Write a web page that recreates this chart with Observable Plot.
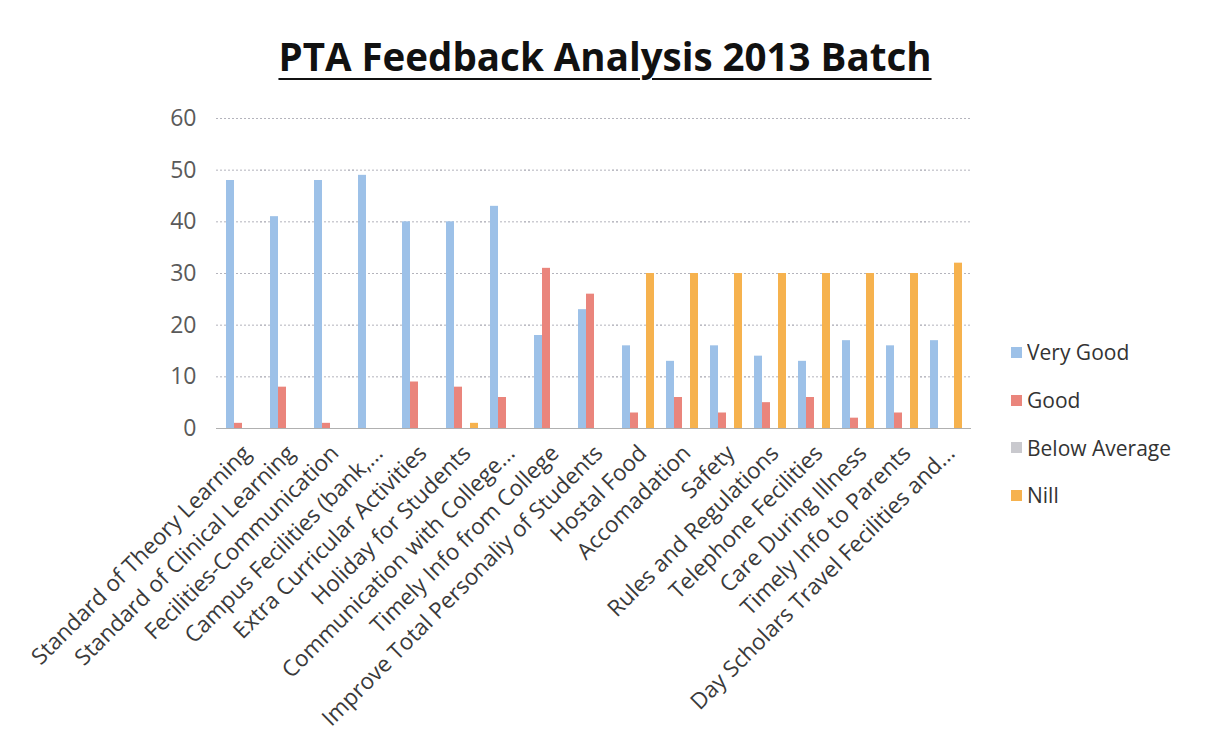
<!DOCTYPE html>
<html>
<head>
<meta charset="utf-8">
<script src="https://cdn.jsdelivr.net/npm/d3@7"></script>
<script src="https://cdn.jsdelivr.net/npm/@observablehq/plot@0.6"></script>
<style>
  html, body { margin: 0; padding: 0; background: #fff; }
  #wrap { position: relative; width: 1210px; height: 754px; overflow: hidden; font-family: "Open Sans", sans-serif; }
  #title { height: 100px; box-sizing: border-box; padding-top: 37px; line-height: 38px; font-size: 38.5px; font-weight: 700; color: #111; text-align: center; }
  #title span { text-decoration: underline; text-decoration-thickness: 2px; text-underline-offset: 7px; }
  #legend { position: absolute; left: 1011px; top: 329px; }
  .lg-swatch { height: 46.7px; }
  .lg-swatch-label { font-size: 21px; color: #333; font-family: "Open Sans", sans-serif; }
</style>
</head>
<body>
<div id="wrap">
  <div id="title"><span>PTA Feedback Analysis 2013 Batch</span></div>
  <div id="chart"></div>
  <div id="legend"></div>
</div>
<script>
const categories = [
  "Standard of Theory Learning",
  "Standard of Clinical Learning",
  "Fecilities-Communication",
  "Campus Fecilities (bank,...",
  "Extra Curricular Activities",
  "Holiday for Students",
  "Communication with College...",
  "Timely Info from College",
  "Improve Total Personaliy of Students",
  "Hostal Food",
  "Accomadation",
  "Safety",
  "Rules and Regulations",
  "Telephone Fecilities",
  "Care During Illness",
  "Timely Info to Parents",
  "Day Scholars Travel Fecilities and..."
];
const series = ["Very Good", "Good", "Below Average", "Nill"];
const veryGood     = [48, 41, 48, 49, 40, 40, 43, 18, 23, 16, 13, 16, 14, 13, 17, 16, 17];
const good         = [ 1,  8,  1,  0,  9,  8,  6, 31, 26,  3,  6,  3,  5,  6,  2,  3,  0];
const belowAverage = [ 0,  0,  0,  0,  0,  0,  0,  0,  0,  0,  0,  0,  0,  0,  0,  0,  0];
const nill         = [ 0,  0,  0,  0,  0,  1,  0,  0,  0, 30, 30, 30, 30, 30, 30, 30, 32];
const yTicks = [0, 10, 20, 30, 40, 50, 60];
const colors = ["#9dc1e8", "#ea857c", "#c9c9ce", "#f6b24e"];

const seriesValues = [veryGood, good, belowAverage, nill];
const data = categories.flatMap((c, i) =>
  series.map((s, j) => ({category: c, series: s, value: seriesValues[j][i]}))
);

const plot = Plot.plot({
  width: 1210,
  height: 654,
  marginLeft: 214,
  marginRight: 238,
  marginTop: 18,
  marginBottom: 326,
  style: {fontFamily: "'Open Sans', sans-serif", background: "transparent"},
  fx: {domain: categories, paddingInner: 0.25, paddingOuter: 0.2, label: null},
  x: {domain: series, padding: 0, axis: null},
  y: {domain: [0, 60], label: null},
  color: {domain: series, range: colors},
  marks: [
    Plot.ruleY(yTicks.slice(1), {stroke: "#b4b4bc", strokeDasharray: "2,2", insetLeft: -9, insetRight: -9}),
    Plot.ruleY([0], {stroke: "#b0b0b0", insetLeft: -9, insetRight: -9}),
    Plot.barY(data, {fx: "category", x: "series", y: "value", fill: "series"}),
    Plot.axisY({ticks: yTicks, tickSize: 0, tickPadding: 29, fontSize: 23, fill: "#5a5a5a", label: null}),
    Plot.axisFx({anchor: "bottom", tickRotate: -45, tickSize: 0, tickPadding: 21, dx: 5, fontSize: 22.5, fill: "#3a3a3a", label: null})
  ]
});
document.getElementById("chart").appendChild(plot);

const legend = plot.legend("color", {legend: "swatches", columns: 1, swatchSize: 11, className: "lg"});
document.getElementById("legend").appendChild(legend);
</script>
</body>
</html>
